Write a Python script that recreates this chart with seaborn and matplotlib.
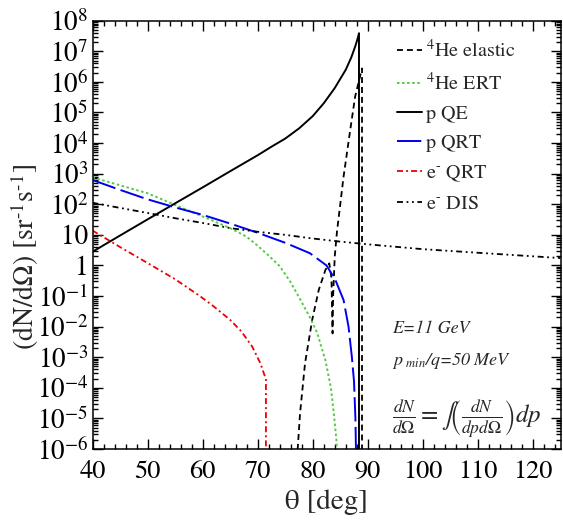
import numpy as np
import pandas as pd
import matplotlib
matplotlib.use("Agg")
import matplotlib.pyplot as plt
import seaborn as sns
from matplotlib.ticker import FixedLocator, LogLocator, NullFormatter, MultipleLocator

# ---------------- data ----------------
he_el_theta = [76.9, 77.7, 78.6, 79.9, 81.1, 82.3, 83.0, 83.4, 83.6, 83.7, 84.0, 84.4,
               85.0, 85.6, 86.8, 87.7, 88.5, 88.95, 88.95]
he_el_val = [1e-7, 1.5e-5, 6.3e-4, 0.0166, 0.16, 0.71, 1.17, 0.4, 6e-3, 0.1, 2.0, 12.6,
             100, 800, 2.6e4, 3.3e5, 1.3e6, 2.75e6, 1e-7]

he_ert_theta = [40, 45, 50, 55, 60, 65, 68, 70, 72, 74, 76, 78, 79.5, 80.8, 82.3, 83.3,
                83.8, 84.3, 84.65]
he_ert_val = [760, 417, 229, 95, 40, 16.6, 8.7, 4.4, 2.1, 0.95, 0.28, 0.063, 0.02, 6.3e-3,
              8e-4, 1e-4, 1.6e-5, 2e-6, 1e-7]

p_qe_theta = [40, 45, 50, 55, 60, 65, 70, 72.5, 75, 77.5, 80, 82, 84, 86, 87, 87.8,
              88.2, 88.4, 88.4]
p_qe_val = [2.8, 9.5, 32, 107, 355, 1200, 4000, 7600, 1.4e4, 3.0e4, 7.6e4, 2.0e5, 6.3e5,
            2.5e6, 6.3e6, 1.6e7, 2.8e7, 3.9e7, 1e-7]

p_qrt_theta = [40, 45, 50, 55, 60, 65, 70, 75, 79.5, 82.5, 84.1, 85.6, 86.5, 87.1, 87.5,
               87.75, 87.95]
p_qrt_val = [620, 295, 145, 79, 45, 23.4, 11.7, 5.5, 2.5, 1.0, 0.34, 0.074, 0.01, 1.05e-3,
             1.6e-4, 1e-5, 1e-7]

e_qrt_theta = [40, 45, 50, 55, 59.5, 62, 65, 67, 69, 70.5, 71.3, 71.5, 71.5]
e_qrt_val = [13.8, 4.0, 1.2, 0.355, 0.1, 0.046, 0.0166, 7.1e-3, 2.24e-3, 6.3e-4, 2.4e-4,
             2e-4, 1e-7]

e_dis_theta = [40, 45, 50, 55, 60, 65, 70, 75, 80, 85, 90, 100, 110, 125]
e_dis_val = [112, 76, 52, 35, 24.5, 16.6, 12.6, 10, 7.6, 6.0, 4.9, 3.4, 2.6, 1.74]

series_names = [r"$^{4}$He elastic", r"$^{4}$He ERT", "p QE", "p QRT",
                r"e$^{\text{-}}$ QRT", r"e$^{\text{-}}$ DIS"]

x_ticks = [40, 50, 60, 70, 80, 90, 100, 110, 120]
y_ticks = [1e-6, 1e-5, 1e-4, 1e-3, 1e-2, 1e-1, 1, 10, 1e2, 1e3, 1e4, 1e5, 1e6, 1e7, 1e8]
y_tick_labels = [r"$10^{-6}$", r"$10^{-5}$", r"$10^{-4}$", r"$10^{-3}$", r"$10^{-2}$",
                 r"$10^{-1}$", "1", "10", r"$10^{2}$", r"$10^{3}$", r"$10^{4}$",
                 r"$10^{5}$", r"$10^{6}$", r"$10^{7}$", r"$10^{8}$"]

# ---------------- style ----------------
sns.set_style("ticks")
plt.rcParams["font.family"] = ["STIXGeneral", "DejaVu Serif"]
plt.rcParams["mathtext.fontset"] = "stix"
plt.rcParams["axes.linewidth"] = 1.1

fig = plt.figure(figsize=(5.63, 5.2), dpi=100)
ax = fig.add_axes([92.5 / 563, 1 - 449 / 520, 468 / 563, 428.3 / 520])

all_series = [
    (he_el_theta, he_el_val, "black", (0, (3.3, 2.2)), 1.3),
    (he_ert_theta, he_ert_val, "#55cc44", (0, (1.3, 1.3)), 1.4),
    (p_qe_theta, p_qe_val, "black", "-", 1.4),
    (p_qrt_theta, p_qrt_val, "#0000ee", (0, (12.5, 2.8)), 1.4),
    (e_qrt_theta, e_qrt_val, "#ee0000", (0, (3.3, 1.7, 1.1, 1.7)), 1.3),
    (e_dis_theta, e_dis_val, "black", (0, (3.3, 2.0, 1.0, 2.0, 1.0, 2.0)), 1.3),
]

handles = []
for (xs, ys, col, ls, lw), name in zip(all_series, series_names):
    df = pd.DataFrame({"theta": xs, "val": ys})
    sns.lineplot(data=df, x="theta", y="val", ax=ax, sort=False, estimator=None,
                 color=col, linewidth=lw, linestyle=ls)
    line = ax.get_lines()[-1]
    line.set_linestyle(ls)
    handles.append(line)

ax.set_yscale("log")
ax.set_xlim(40, 125)
ax.set_ylim(1e-6, 1e8)

ax.xaxis.set_major_locator(FixedLocator(x_ticks))
ax.xaxis.set_minor_locator(MultipleLocator(2))
ax.set_xticks(x_ticks)
ax.set_xticklabels([str(t) for t in x_ticks])
ax.yaxis.set_major_locator(FixedLocator(y_ticks))
ax.set_yticklabels(y_tick_labels)
ax.yaxis.set_minor_locator(LogLocator(base=10, subs=np.arange(2, 10), numticks=50))
ax.yaxis.set_minor_formatter(NullFormatter())

ax.tick_params(which="both", direction="in", top=True, right=True, width=1.0,
               colors="black")
ax.tick_params(axis="x", labelsize=19, pad=8)
ax.tick_params(axis="y", labelsize=19.5, pad=3)
ax.tick_params(which="major", length=7)
ax.tick_params(which="minor", length=3.5)
for s in ax.spines.values():
    s.set_visible(True)
    s.set_color("black")

ax.set_xlabel("θ [deg]", fontsize=21)
ax.xaxis.set_label_coords(0.5, -0.093)
ax.set_ylabel(r"(dN/d$\Omega$) [sr$^{\text{-1}}$s$^{\text{-1}}$]", fontsize=20)
ax.yaxis.set_label_coords(-0.145, 0.448)
ax.yaxis.label.set_va("center")

leg = ax.legend(handles, series_names, loc="upper left",
                bbox_to_anchor=((397 - 92.5) / 468, 0.958), bbox_transform=ax.transAxes,
                frameon=False, fontsize=14.5, handlelength=1.25, handletextpad=0.2,
                labelspacing=0.55, borderpad=0, borderaxespad=0)

ax.text(0.64, 0.28, "E=11 GeV", transform=ax.transAxes, fontsize=13,
        style="italic", va="center", ha="left")
ax.text(0.64, 0.205, r"$p_{\ min}$/q=50 MeV", transform=ax.transAxes, fontsize=13,
        style="italic", va="center", ha="left")
ax.text(0.64, 0.07, r"$\frac{dN}{d\Omega} = \int\!\left(\frac{dN}{dpd\Omega}\right)dp$",
        transform=ax.transAxes, fontsize=18, va="center", ha="left")

fig.savefig("out.png", dpi=100)
